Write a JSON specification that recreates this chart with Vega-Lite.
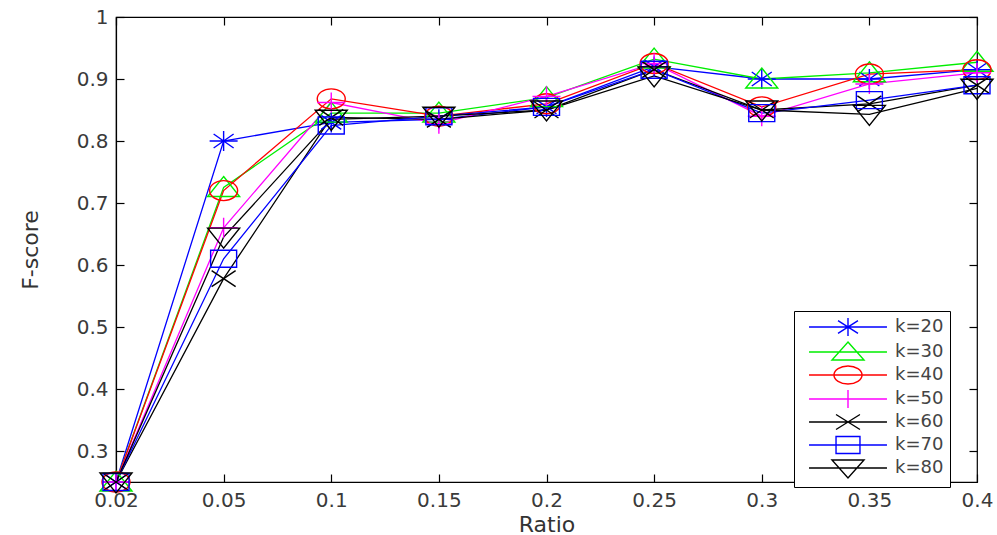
{
  "$schema": "https://vega.github.io/schema/vega-lite/v6.json",
  "width": 861,
  "height": 465,
  "autosize": {"type": "none"},
  "padding": {"left": 116, "top": 17, "right": 20, "bottom": 53},
  "background": "white",
  "config": {
    "view": {"stroke": "black", "strokeWidth": 1.2},
    "font": "DejaVu Sans",
    "axis": {
      "grid": false,
      "ticks": true,
      "domainColor": "black",
      "domainWidth": 1.2,
      "tickColor": "black",
      "tickWidth": 1.2,
      "tickSize": -8,
      "labelPadding": 16,
      "labelFont": "DejaVu Sans",
      "labelFontSize": 20,
      "labelColor": "#3a3a3a",
      "titleFont": "DejaVu Sans",
      "titleFontWeight": "normal",
      "titleFontSize": 22,
      "titleColor": "#333333"
    }
  },
  "data": {
    "values": [
      {"k": "k=20", "ratio": "0.02", "f": 0.25},
      {"k": "k=20", "ratio": "0.05", "f": 0.80},
      {"k": "k=20", "ratio": "0.1", "f": 0.83},
      {"k": "k=20", "ratio": "0.15", "f": 0.835},
      {"k": "k=20", "ratio": "0.2", "f": 0.855},
      {"k": "k=20", "ratio": "0.25", "f": 0.92},
      {"k": "k=20", "ratio": "0.3", "f": 0.90},
      {"k": "k=20", "ratio": "0.35", "f": 0.90},
      {"k": "k=20", "ratio": "0.4", "f": 0.915},
      {"k": "k=30", "ratio": "0.02", "f": 0.25},
      {"k": "k=30", "ratio": "0.05", "f": 0.725},
      {"k": "k=30", "ratio": "0.1", "f": 0.845},
      {"k": "k=30", "ratio": "0.15", "f": 0.845},
      {"k": "k=30", "ratio": "0.2", "f": 0.87},
      {"k": "k=30", "ratio": "0.25", "f": 0.932},
      {"k": "k=30", "ratio": "0.3", "f": 0.90},
      {"k": "k=30", "ratio": "0.35", "f": 0.91},
      {"k": "k=30", "ratio": "0.4", "f": 0.927},
      {"k": "k=40", "ratio": "0.02", "f": 0.25},
      {"k": "k=40", "ratio": "0.05", "f": 0.72},
      {"k": "k=40", "ratio": "0.1", "f": 0.868},
      {"k": "k=40", "ratio": "0.15", "f": 0.84},
      {"k": "k=40", "ratio": "0.2", "f": 0.86},
      {"k": "k=40", "ratio": "0.25", "f": 0.925},
      {"k": "k=40", "ratio": "0.3", "f": 0.855},
      {"k": "k=40", "ratio": "0.35", "f": 0.908},
      {"k": "k=40", "ratio": "0.4", "f": 0.915},
      {"k": "k=50", "ratio": "0.02", "f": 0.25},
      {"k": "k=50", "ratio": "0.05", "f": 0.66},
      {"k": "k=50", "ratio": "0.1", "f": 0.862},
      {"k": "k=50", "ratio": "0.15", "f": 0.828},
      {"k": "k=50", "ratio": "0.2", "f": 0.872},
      {"k": "k=50", "ratio": "0.25", "f": 0.925},
      {"k": "k=50", "ratio": "0.3", "f": 0.84},
      {"k": "k=50", "ratio": "0.35", "f": 0.892},
      {"k": "k=50", "ratio": "0.4", "f": 0.91},
      {"k": "k=60", "ratio": "0.02", "f": 0.25},
      {"k": "k=60", "ratio": "0.05", "f": 0.578},
      {"k": "k=60", "ratio": "0.1", "f": 0.838},
      {"k": "k=60", "ratio": "0.15", "f": 0.835},
      {"k": "k=60", "ratio": "0.2", "f": 0.85},
      {"k": "k=60", "ratio": "0.25", "f": 0.915},
      {"k": "k=60", "ratio": "0.3", "f": 0.85},
      {"k": "k=60", "ratio": "0.35", "f": 0.86},
      {"k": "k=60", "ratio": "0.4", "f": 0.89},
      {"k": "k=70", "ratio": "0.02", "f": 0.25},
      {"k": "k=70", "ratio": "0.05", "f": 0.61},
      {"k": "k=70", "ratio": "0.1", "f": 0.825},
      {"k": "k=70", "ratio": "0.15", "f": 0.84},
      {"k": "k=70", "ratio": "0.2", "f": 0.855},
      {"k": "k=70", "ratio": "0.25", "f": 0.915},
      {"k": "k=70", "ratio": "0.3", "f": 0.845},
      {"k": "k=70", "ratio": "0.35", "f": 0.866},
      {"k": "k=70", "ratio": "0.4", "f": 0.89},
      {"k": "k=80", "ratio": "0.02", "f": 0.25},
      {"k": "k=80", "ratio": "0.05", "f": 0.645},
      {"k": "k=80", "ratio": "0.1", "f": 0.835},
      {"k": "k=80", "ratio": "0.15", "f": 0.84},
      {"k": "k=80", "ratio": "0.2", "f": 0.85},
      {"k": "k=80", "ratio": "0.25", "f": 0.905},
      {"k": "k=80", "ratio": "0.3", "f": 0.85},
      {"k": "k=80", "ratio": "0.35", "f": 0.843},
      {"k": "k=80", "ratio": "0.4", "f": 0.885}
    ]
  },
  "resolve": {"axis": {"x": "independent", "y": "independent"}},
  "encoding": {
    "x": {
      "field": "ratio",
      "type": "ordinal",
      "sort": ["0.02", "0.05", "0.1", "0.15", "0.2", "0.25", "0.3", "0.35", "0.4"],
      "scale": {"type": "point", "padding": 0},
      "axis": null
    },
    "y": {
      "field": "f",
      "type": "quantitative",
      "scale": {"domain": [0.25, 1], "nice": false, "zero": false},
      "axis": null
    },
    "color": {
      "field": "k",
      "type": "nominal",
      "scale": {
        "domain": ["k=20", "k=30", "k=40", "k=50", "k=60", "k=70", "k=80"],
        "range": ["#0000ff", "#00ee00", "#ff0000", "#ff00ff", "#000000", "#0000ff", "#000000"]
      },
      "legend": {
        "title": null,
        "orient": "none",
        "legendX": 678,
        "legendY": 294,
        "strokeColor": "black",
        "fillColor": "white",
        "padding": 6,
        "symbolSize": 324,
        "symbolStrokeWidth": 1.4,
        "symbolOffset": 38,
        "labelFont": "DejaVu Sans",
        "labelFontSize": 18,
        "labelColor": "#444444",
        "labelOffset": 37,
        "rowPadding": 0,
        "encode": {
          "symbols": {
            "update": {
              "fill": {"value": "transparent"},
              "stroke": {"scale": "color", "field": "value"},
              "strokeWidth": {"value": 1.4},
              "shape": {"signal": "datum.value === 'k=20' ? 'M-4.33,0L4.33,0M0,-1L0,1M-1.56,0L1.56,0M-1.11,-0.7L1.11,0.7M-1.11,0.7L1.11,-0.7' : datum.value === 'k=30' ? 'M-4.33,0L4.33,0M0,-1.11L1.78,0.89L-1.78,0.89Z' : datum.value === 'k=40' ? 'M-4.33,0L4.33,0M-1.56,0A1.56,1,0,1,1,1.56,0A1.56,1,0,1,1,-1.56,0Z' : datum.value === 'k=50' ? 'M-4.33,0L4.33,0M0,-1L0,1M-1.56,0L1.56,0' : datum.value === 'k=60' ? 'M-4.33,0L4.33,0M-1.33,-0.83L1.33,0.83M-1.33,0.83L1.33,-0.83' : datum.value === 'k=70' ? 'M-4.33,0L4.33,0M-1.33,-0.94L1.33,-0.94L1.33,0.94L-1.33,0.94Z' : 'M-4.33,0L4.33,0M-1.78,-0.89L1.78,-0.89L0,1.11Z'"}
            }
          }
        }
      }
    }
  },
  "layer": [
    {
      "mark": {"type": "line", "strokeWidth": 1.3},
      "encoding": {
        "x": {
          "field": "ratio",
          "type": "ordinal",
          "sort": ["0.02", "0.05", "0.1", "0.15", "0.2", "0.25", "0.3", "0.35", "0.4"],
          "scale": {"type": "point", "padding": 0},
          "axis": {"orient": "bottom", "title": "Ratio", "labelAngle": 0, "titlePadding": 4}
        },
        "y": {
          "field": "f",
          "type": "quantitative",
          "scale": {"domain": [0.25, 1], "nice": false, "zero": false},
          "axis": {"orient": "left", "title": "F-score", "values": [0.3, 0.4, 0.5, 0.6, 0.7, 0.8, 0.9, 1], "format": "~g", "titlePadding": 34}
        }
      }
    },
    {
      "mark": {"type": "point", "filled": false, "size": 400, "strokeWidth": 1.4, "opacity": 1},
      "encoding": {
        "shape": {
          "field": "k",
          "type": "nominal",
          "scale": {
            "domain": ["k=80", "k=70", "k=60", "k=50", "k=40", "k=30", "k=20"],
            "range": [
              "M-1.6,-0.9L1.6,-0.9L0,1.1Z",
              "M-1.3,-0.85L1.3,-0.85L1.3,0.85L-1.3,0.85Z",
              "M-1.2,-0.8L1.2,0.8M-1.2,0.8L1.2,-0.8",
              "M0,-1L0,1M-1.4,0L1.4,0",
              "M-1.4,0A1.4,1,0,1,1,1.4,0A1.4,1,0,1,1,-1.4,0Z",
              "M0,-1.1L1.6,0.9L-1.6,0.9Z",
              "M0,-1L0,1M-1.4,0L1.4,0M-1,-0.7L1,0.7M-1,0.7L1,-0.7"
            ]
          },
          "legend": null
        }
      }
    },
    {
      "mark": {"type": "point", "opacity": 0},
      "encoding": {
        "color": {"value": "black"},
        "x": {
          "field": "ratio",
          "type": "ordinal",
          "sort": ["0.02", "0.05", "0.1", "0.15", "0.2", "0.25", "0.3", "0.35", "0.4"],
          "scale": {"type": "point", "padding": 0},
          "axis": {"orient": "top", "labels": false, "title": null, "domain": false}
        },
        "y": {
          "field": "f",
          "type": "quantitative",
          "scale": {"domain": [0.25, 1], "nice": false, "zero": false},
          "axis": {"orient": "right", "labels": false, "title": null, "domain": false, "values": [0.3, 0.4, 0.5, 0.6, 0.7, 0.8, 0.9, 1]}
        }
      }
    }
  ]
}
